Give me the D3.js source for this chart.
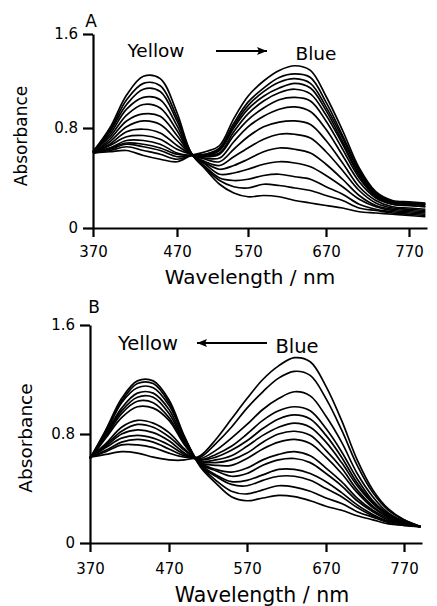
<!DOCTYPE html>
<html><head><meta charset="utf-8">
<script src="https://cdn.jsdelivr.net/npm/d3@7"></script>
<style>
html,body{margin:0;padding:0;background:#fff;}
svg{display:block;font-family:"DejaVu Sans",Verdana,sans-serif;}
</style></head><body>
<svg id="chart" width="437" height="606"></svg>
<script>
// ---- data ----
const wavelengths = [370,390,410,430,450,470,490,510,530,550,570,590,610,630,650,670,690,710,730,750,770,790];
const xTickValues = [370,470,570,670,770];
const yTickValues = [0,0.8,1.6];
const xTitle = "Wavelength / nm";
const yTitle = "Absorbance";
const panelNames = ["A","B"];
const leftLabels = ["Yellow","Yellow"];
const rightLabels = ["Blue","Blue"];

// Panel A: Yellow -> Blue (14 spectra)
const seriesA = [
 [0.61,0.80,1.08,1.24,1.22,0.93,0.60,0.47,0.35,0.28,0.25,0.26,0.25,0.22,0.20,0.18,0.16,0.13,0.12,0.11,0.10,0.09],
 [0.61,0.78,1.04,1.18,1.16,0.89,0.60,0.48,0.38,0.33,0.32,0.35,0.34,0.32,0.30,0.26,0.22,0.16,0.14,0.12,0.11,0.10],
 [0.61,0.77,1.00,1.13,1.11,0.86,0.60,0.49,0.40,0.38,0.39,0.42,0.43,0.41,0.39,0.33,0.27,0.19,0.15,0.13,0.12,0.11],
 [0.61,0.75,0.96,1.06,1.04,0.82,0.59,0.51,0.43,0.44,0.47,0.51,0.53,0.52,0.49,0.42,0.33,0.23,0.17,0.14,0.13,0.12],
 [0.61,0.73,0.91,1.00,0.97,0.78,0.59,0.52,0.47,0.50,0.55,0.61,0.64,0.63,0.60,0.51,0.39,0.26,0.18,0.15,0.14,0.13],
 [0.60,0.71,0.86,0.92,0.90,0.74,0.59,0.53,0.50,0.57,0.64,0.71,0.75,0.75,0.72,0.61,0.46,0.30,0.20,0.16,0.15,0.14],
 [0.60,0.69,0.81,0.86,0.83,0.70,0.59,0.55,0.53,0.63,0.73,0.81,0.85,0.86,0.83,0.70,0.52,0.33,0.22,0.17,0.16,0.15],
 [0.60,0.67,0.77,0.79,0.76,0.66,0.59,0.56,0.56,0.69,0.81,0.90,0.96,0.98,0.94,0.79,0.58,0.37,0.24,0.19,0.18,0.17],
 [0.60,0.66,0.73,0.74,0.71,0.63,0.59,0.57,0.59,0.74,0.87,0.97,1.04,1.06,1.03,0.86,0.63,0.40,0.25,0.19,0.18,0.17],
 [0.60,0.64,0.70,0.70,0.67,0.60,0.58,0.58,0.60,0.77,0.92,1.03,1.10,1.13,1.09,0.91,0.67,0.42,0.26,0.20,0.19,0.18],
 [0.60,0.64,0.68,0.67,0.64,0.59,0.58,0.58,0.62,0.80,0.96,1.07,1.14,1.18,1.14,0.95,0.69,0.43,0.27,0.21,0.20,0.19],
 [0.60,0.63,0.67,0.65,0.62,0.57,0.58,0.59,0.63,0.82,0.99,1.11,1.19,1.22,1.18,0.98,0.72,0.45,0.27,0.21,0.20,0.19],
 [0.60,0.62,0.65,0.62,0.59,0.55,0.58,0.59,0.64,0.84,1.02,1.14,1.23,1.26,1.23,1.02,0.74,0.46,0.28,0.21,0.20,0.19],
 [0.60,0.61,0.62,0.58,0.55,0.53,0.58,0.61,0.66,0.88,1.07,1.20,1.29,1.33,1.29,1.07,0.78,0.48,0.29,0.22,0.21,0.20]
];

// Panel B: Blue -> Yellow (14 spectra)
const seriesB = [
 [0.62,0.83,1.06,1.19,1.19,1.05,0.78,0.56,0.44,0.34,0.31,0.33,0.35,0.34,0.31,0.27,0.24,0.20,0.17,0.14,0.13,0.12],
 [0.62,0.82,1.04,1.17,1.17,1.03,0.77,0.57,0.46,0.38,0.36,0.39,0.42,0.41,0.38,0.33,0.29,0.23,0.19,0.15,0.13,0.12],
 [0.62,0.81,1.03,1.14,1.14,1.01,0.77,0.57,0.49,0.43,0.42,0.46,0.49,0.49,0.46,0.40,0.34,0.26,0.20,0.16,0.14,0.12],
 [0.62,0.80,0.99,1.10,1.10,0.98,0.75,0.58,0.50,0.45,0.46,0.50,0.54,0.54,0.51,0.45,0.37,0.28,0.21,0.16,0.14,0.12],
 [0.62,0.79,0.97,1.07,1.07,0.95,0.74,0.58,0.53,0.49,0.51,0.57,0.61,0.62,0.59,0.51,0.42,0.31,0.23,0.17,0.14,0.12],
 [0.62,0.78,0.95,1.04,1.03,0.92,0.73,0.59,0.54,0.52,0.55,0.61,0.65,0.67,0.64,0.55,0.45,0.33,0.24,0.18,0.14,0.12],
 [0.62,0.77,0.92,1.00,0.99,0.90,0.72,0.59,0.57,0.57,0.62,0.69,0.74,0.76,0.73,0.63,0.51,0.37,0.26,0.19,0.15,0.12],
 [0.63,0.73,0.85,0.90,0.88,0.81,0.69,0.60,0.59,0.61,0.66,0.74,0.80,0.82,0.79,0.68,0.55,0.39,0.27,0.19,0.15,0.12],
 [0.63,0.72,0.82,0.87,0.85,0.78,0.68,0.60,0.61,0.64,0.71,0.79,0.85,0.88,0.85,0.74,0.59,0.42,0.29,0.20,0.15,0.12],
 [0.63,0.71,0.80,0.83,0.81,0.75,0.66,0.61,0.63,0.68,0.75,0.84,0.91,0.94,0.91,0.79,0.63,0.44,0.30,0.21,0.15,0.12],
 [0.63,0.70,0.77,0.79,0.77,0.72,0.65,0.61,0.65,0.71,0.80,0.90,0.97,1.00,0.97,0.84,0.67,0.47,0.31,0.21,0.16,0.12],
 [0.63,0.68,0.74,0.76,0.74,0.69,0.64,0.62,0.68,0.77,0.87,0.98,1.06,1.11,1.08,0.93,0.74,0.51,0.34,0.22,0.16,0.12],
 [0.63,0.67,0.72,0.72,0.70,0.66,0.63,0.63,0.73,0.85,0.99,1.11,1.21,1.26,1.23,1.06,0.83,0.57,0.37,0.24,0.17,0.12],
 [0.63,0.65,0.67,0.66,0.63,0.61,0.61,0.64,0.76,0.91,1.06,1.20,1.30,1.36,1.33,1.15,0.90,0.61,0.39,0.25,0.17,0.12]
];

// ---- layout ----
const svg = d3.select("#chart");
const panels = [
  { name: panelNames[0], data: seriesA,
    x: d3.scaleLinear().domain([370,470,570,670,770,792]).range([93,177,248,326,409,427]),
    y: d3.scaleLinear().domain([0,0.8,1.6]).range([228,128,34]),
    xPad: 9, nameXY:[91,27], nameSize:17,
    yTitleXY:[21,136], yTitleSize:17,
    xTitleXY:[250,284], xTitleSize:20,
    annSize:18.5, leftTxt:[156,57], rightTxt:[316,60], arrow:[216,267,51], arrowDir:1 },
  { name: panelNames[1], data: seriesB,
    x: d3.scaleLinear().domain([370,470,570,670,770,792]).range([90,169,247,326,404,422]),
    y: d3.scaleLinear().domain([0,1.6]).range([543,325]),
    xPad: 11, nameXY:[94,313], nameSize:17,
    yTitleXY:[26,438], yTitleSize:18.5,
    xTitleXY:[262,602], xTitleSize:20.5,
    annSize:19.5, leftTxt:[148,350], rightTxt:[297,353], arrow:[197,267,343], arrowDir:-1 }
];

panels.forEach((p, pi) => {
  const g = svg.append("g");
  // axes
  const xAxis = d3.axisBottom(p.x).tickValues(xTickValues).tickSize(9).tickSizeOuter(0).tickPadding(p.xPad).tickFormat(d3.format("d"));
  const yAxis = d3.axisLeft(p.y).tickValues(yTickValues).tickSize(10).tickSizeOuter(0).tickPadding(5)
      .tickFormat(d => d === 0 ? "0" : d3.format(".1f")(d));
  const gx = g.append("g").attr("transform", `translate(0,${p.y(0)})`).call(xAxis);
  const gy = g.append("g").attr("transform", `translate(${p.x(370)},0)`).call(yAxis);
  [gx, gy].forEach(a => {
    a.selectAll("path,line").attr("stroke","#000").attr("stroke-width",2.2);
    a.selectAll("text").attr("fill","#000").style("font-size","15px").style("font-family",'"DejaVu Sans",Verdana,sans-serif');
  });

  // spectra
  const line = d3.line()
    .x((d,i) => p.x(wavelengths[i]))
    .y(d => p.y(d))
    .curve(d3.curveCatmullRom.alpha(0.5));
  g.append("g").selectAll("path").data(p.data).join("path")
    .attr("d", line).attr("fill","none").attr("stroke","#000").attr("stroke-width",1.7);

  // titles
  g.append("text").attr("x", p.nameXY[0]).attr("y", p.nameXY[1]).attr("text-anchor","middle")
    .style("font-size", p.nameSize+"px").text(p.name);
  g.append("text").attr("transform", `translate(${p.yTitleXY[0]},${p.yTitleXY[1]}) rotate(-90)`)
    .attr("text-anchor","middle").attr("dy","0.35em").style("font-size", p.yTitleSize+"px").text(yTitle);
  g.append("text").attr("x", p.xTitleXY[0]).attr("y", p.xTitleXY[1]).attr("text-anchor","middle")
    .style("font-size", p.xTitleSize+"px").text(xTitle);

  // annotation
  g.append("text").attr("x", p.leftTxt[0]).attr("y", p.leftTxt[1]).attr("text-anchor","middle")
    .style("font-size", p.annSize+"px").text(leftLabels[pi]);
  g.append("text").attr("x", p.rightTxt[0]).attr("y", p.rightTxt[1]).attr("text-anchor","middle")
    .style("font-size", p.annSize+"px").text(rightLabels[pi]);
  const [ax0, ax1, ay] = p.arrow;
  g.append("line").attr("x1", ax0).attr("x2", ax1).attr("y1", ay).attr("y2", ay)
    .attr("stroke","#000").attr("stroke-width",1.8);
  const tip = p.arrowDir > 0 ? ax1 : ax0;
  const back = tip - p.arrowDir * 10;
  g.append("path").attr("d", `M${tip},${ay} L${back},${ay-4} L${back+p.arrowDir*2},${ay} L${back},${ay+4} Z`).attr("fill","#000");
});
</script>
</body></html>
